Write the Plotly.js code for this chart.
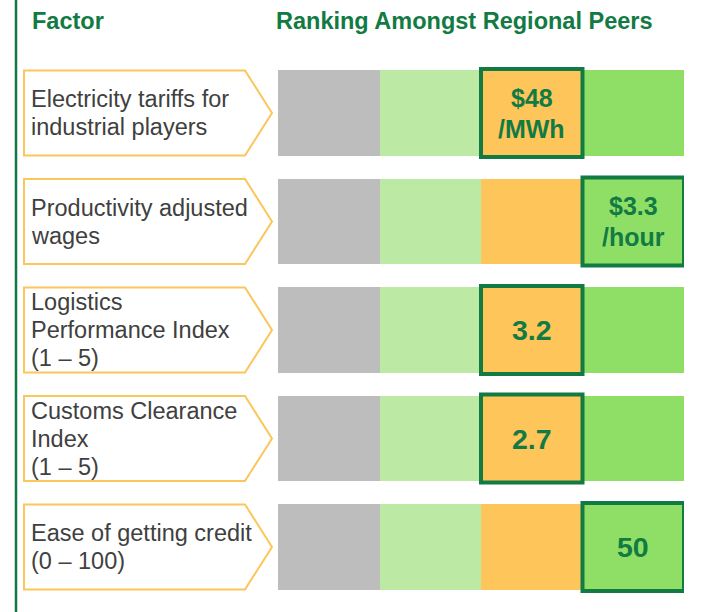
<!DOCTYPE html>
<html>
<head>
<meta charset="utf-8">
<script src="https://cdn.plot.ly/plotly-3.0.1.min.js"></script>
<style>html,body{margin:0;padding:0;background:#fff;}#chart{width:705px;height:612px;}</style>
</head>
<body>
<div id="chart"></div>
<script>
// ---- data ----
const factors = [
  "Electricity tariffs for<br>industrial players",
  "Productivity adjusted<br>wages",
  "Logistics<br>Performance Index<br>(1 – 5)",
  "Customs Clearance<br>Index<br>(1 – 5)",
  "Ease of getting credit<br>(0 – 100)"
];
const values = ["$48<br>/MWh", "$3.3<br>/hour", "3.2", "2.7", "50"];
const rankTier = [3, 4, 3, 3, 4];          // 1 = lowest band, 4 = best band
const tierNames = ["Bottom", "Lower", "Upper", "Top"];
const tierColors = ["#bdbdbd", "#bceaa4", "#fdc55a", "#8fdf66"];
const headerFactor = "Factor";
const headerRanking = "Ranking Amongst Regional Peers";

// ---- build ----
const W = 705, H = 612;
const rows = factors.map((_, i) => i);
const green = "#127a43";
const FAM = "'Liberation Sans', Arial, sans-serif";

const traces = tierNames.map((name, t) => ({
  type: "bar",
  orientation: "h",
  name: name,
  y: rows,
  x: rows.map(() => 1),
  marker: {color: tierColors[t], line: {width: 0}},
  hoverinfo: "skip"
}));

const h = 0.3925;
const shapes = [];
const annotations = [];

function addLines(text, opts, spacing) {
  const lines = text.split("<br>");
  const n = lines.length;
  lines.forEach((ln, k) => {
    annotations.push(Object.assign({}, opts, {
      text: ln, showarrow: false, yanchor: "middle",
      yshift: ((n - 1) / 2 - k) * spacing
    }));
  });
}

// left vertical rule
shapes.push({type: "line", xref: "paper", yref: "paper", x0: 16/W, x1: 16/W, y0: 0, y1: 1,
  line: {color: "#0f7a45", width: 2.5}});

rows.forEach(i => {
  const xa = 24/W, xb = 245/W, xc = 272/W;
  shapes.push({type: "path", xref: "paper", yref: "y",
    path: `M ${xa},${i-h} L ${xb},${i-h} L ${xc},${i} L ${xb},${i+h} L ${xa},${i+h} Z`,
    fillcolor: "#ffffff", line: {color: "#fcc65c", width: 2}, layer: "above"});
  addLines(factors[i], {xref: "paper", yref: "y", x: 29/W, y: i, xanchor: "left", align: "left",
    font: {family: FAM, size: 23.5, color: "#404040"}}, 28);
  const t = rankTier[i];
  shapes.push({type: "rect", xref: "x", yref: "y", x0: t-1, x1: t, y0: i-0.405, y1: i+0.405,
    line: {color: green, width: 4}, layer: "above"});
  const multi = values[i].indexOf("<br>") >= 0;
  addLines(values[i], {xref: "x", yref: "y", x: t-0.5, y: i, xanchor: "center",
    font: {family: FAM, size: multi ? 25 : 28.5, color: green, weight: "bold"}}, 31);
});

annotations.push({xref: "paper", yref: "paper", x: 30/W, y: 1 - 21/H, xanchor: "left", yanchor: "middle",
  showarrow: false, text: headerFactor,
  font: {family: FAM, size: 23.5, color: green, weight: "bold"}});
annotations.push({xref: "paper", yref: "paper", x: 274/W, y: 1 - 21/H, xanchor: "left", yanchor: "middle",
  showarrow: false, text: headerRanking,
  font: {family: FAM, size: 23.5, color: green, weight: "bold"}});

const layout = {
  width: W, height: H,
  margin: {l: 0, r: 0, t: 0, b: 0},
  paper_bgcolor: "#ffffff", plot_bgcolor: "#ffffff",
  barmode: "stack", bargap: 0.215,
  showlegend: false,
  xaxis: {domain: [278/W, 684/W], range: [0, 4], visible: false, fixedrange: true},
  yaxis: {domain: [1 - 601.25/H, 1 - 58.75/H], range: [4.5, -0.5], visible: false, fixedrange: true},
  shapes: shapes,
  annotations: annotations
};

Plotly.newPlot("chart", traces, layout, {displayModeBar: false, staticPlot: true});
</script>
</body>
</html>
